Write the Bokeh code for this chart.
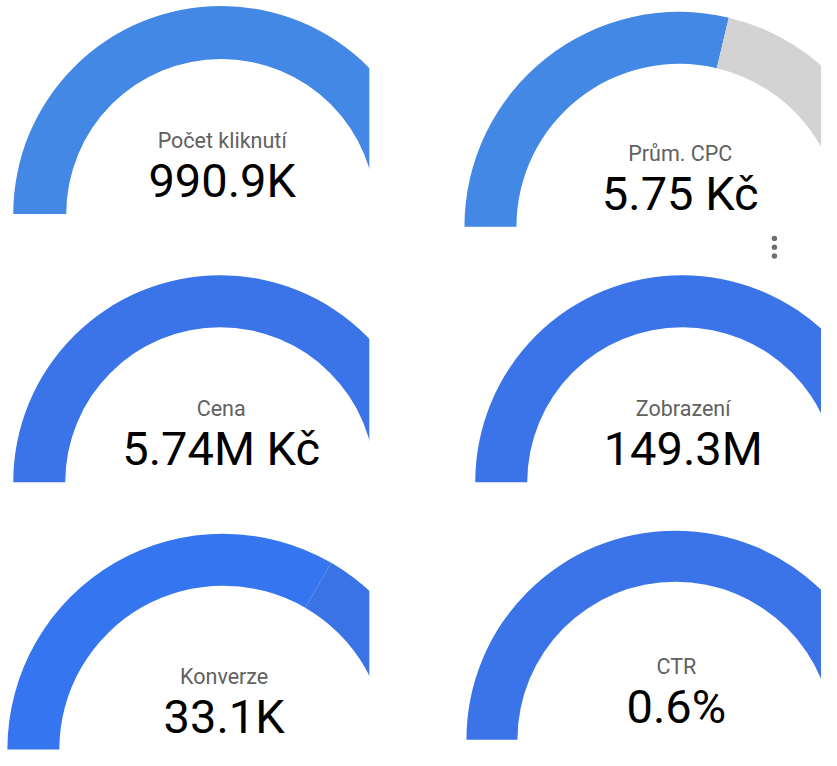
from bokeh.plotting import figure
from bokeh.models import ColumnDataSource, Range1d
from bokeh.core.properties import value
from bokeh.embed import file_html
from bokeh.resources import INLINE
import math

# ---- data ----
labels = ["Počet kliknutí", "Prům. CPC", "Cena", "Zobrazení", "Konverze", "CTR"]
values = ["990.9K", "5.75 Kč", "5.74M Kč", "149.3M", "33.1K", "0.6%"]
fractions = [1.0, 0.574, 1.0, 1.0, 0.667, 1.0]
value_colors = ["#4288E4", "#4288E4", "#3A74E8", "#3A74E8", "#3576F0", "#3A74E8"]
rest_colors = ["#D3D3D3", "#D3D3D3", "#D3D3D3", "#D3D3D3", "#3A73E6", "#D3D3D3"]

# ---- layout (reference pixel coordinates) ----
cx = [225, 692, 224, 695, 227, 688]
cy = [218, 231, 492, 492, 765, 755]
outer_r = [212, 219, 211, 211, 220, 213]
inner_r = [158, 166, 158, 158, 167, 161]

IMG_W, IMG_H = 837, 766
def ty(y):
    return IMG_H - y

# wedges
wx, wy, wr0, wr1, wa0, wa1, wc = [], [], [], [], [], [], []
for i in range(6):
    f = fractions[i]
    split = math.pi * (1 - f)
    wx.append(cx[i]); wy.append(ty(cy[i])); wr0.append(inner_r[i]); wr1.append(outer_r[i])
    wa0.append(split); wa1.append(math.pi); wc.append(value_colors[i])
    if f < 1.0:
        wx.append(cx[i]); wy.append(ty(cy[i])); wr0.append(inner_r[i]); wr1.append(outer_r[i])
        wa0.append(0.0); wa1.append(split); wc.append(rest_colors[i])

wsrc = ColumnDataSource(dict(x=wx, y=wy, r0=wr0, r1=wr1, a0=wa0, a1=wa1, c=wc))

p = figure(width=821, height=750, x_range=Range1d(0, IMG_W), y_range=Range1d(0, IMG_H),
           output_backend="svg", toolbar_location=None, min_border=0,
           x_axis_type=None, y_axis_type=None, outline_line_color=None,
           background_fill_color="white", border_fill_color="white")
p.grid.visible = False

p.annular_wedge(x="x", y="y", inner_radius="r0", outer_radius="r1",
                start_angle="a0", end_angle="a1", fill_color="c", line_color=None,
                source=wsrc)

# panel clipping between left and right columns
p.quad(left=[376], right=[470], bottom=[0], top=[IMG_H], fill_color="white", line_color=None)

tsrc = ColumnDataSource(dict(
    x=[c + 1 for c in cx],
    ly=[ty(c - 75) for c in cy],
    vy=[ty(c - 34) for c in cy],
    label=labels, val=values))

p.text(x="x", y="ly", text="label", source=tsrc, text_align="center",
       text_baseline="middle", text_font=value("Roboto"),
       text_font_size="21.5px", text_color="#616161")
p.text(x="x", y="vy", text="val", source=tsrc, text_align="center",
       text_baseline="middle", text_font=value("Roboto"),
       text_font_size="47px", text_color="#000000")

# menu dots
dot_x = [789, 789, 789]
dot_y = [243, 252, 261]
p.scatter(x=dot_x, y=[ty(v) for v in dot_y], size=5.4, fill_color="#6E6E6E", line_color=None)

open("out.html", "w").write(file_html(p, INLINE))
